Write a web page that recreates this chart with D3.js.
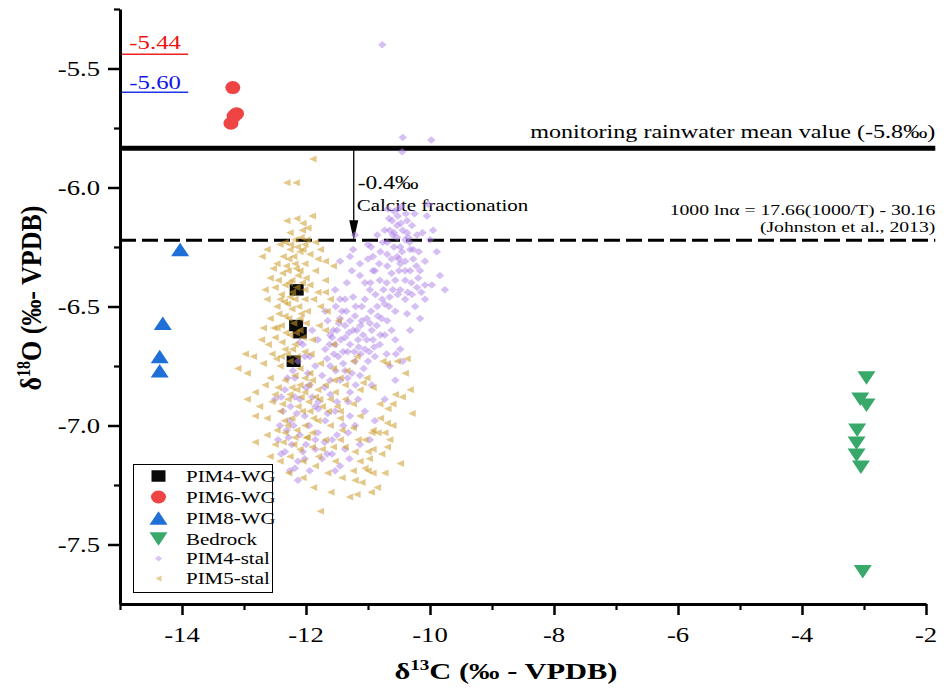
<!DOCTYPE html>
<html>
<head>
<meta charset="utf-8">
<script src="https://cdn.jsdelivr.net/npm/d3@7"></script>
<style>
  body { margin: 0; background: #fff; }
  text { font-family: "Liberation Serif", "Times New Roman", serif; }
</style>
</head>
<body>
<svg id="chart" width="950" height="688"></svg>
<script>
// ---- data ----
const xMajor = [-14, -12, -10, -8, -6, -4, -2];
const xMinor = [-15, -13, -11, -9, -7, -5, -3];
const yMajor = [-5.5, -6.0, -6.5, -7.0, -7.5];
const yMinor = [-5.25, -5.75, -6.25, -6.75, -7.25];

const rainMean = -5.835;        // monitoring rainwater mean δ18O
const calciteLine = -6.222;     // equilibrium calcite value
const arrowC = -11.23;          // δ13C position of the fractionation arrow
const lineEnd = -1.85;          // reference lines run slightly past the axis end
const refPim6 = -5.44;
const refPim8 = -5.60;
const refLineSpan = [-15, -13.9];

const pim4wg = [[-12.15, -6.43], [-12.16, -6.58], [-12.10, -6.61], [-12.20, -6.73]];
const pim6wg = [[-13.18, -5.58], [-13.12, -5.69], [-13.16, -5.70], [-13.21, -5.73]];
const pim8wg = [[-14.03, -6.26], [-14.31, -6.57], [-14.36, -6.71], [-14.36, -6.77]];
const bedrock = [[-2.96, -6.80], [-3.06, -6.89], [-2.96, -6.915], [-3.11, -7.02],
                 [-3.12, -7.075], [-3.12, -7.125], [-3.05, -7.175], [-3.02, -7.615]];

const pim4stal = [
  [-10.77,-5.40],[-10.44,-5.79],[-10.45,-5.85],[-9.98,-5.80],
  [-10.52,-6.09],[-10.68,-6.09],[-10.39,-6.11],[-10.52,-6.12],[-10.37,-6.14],[-10.61,-6.14],[-10.03,-6.07],
  [-10.53,-6.16],[-10.29,-6.16],[-10.73,-6.18],[-10.44,-6.18],[-10.65,-6.18],[-10.21,-6.20],[-10.60,-6.20],
  [-10.35,-6.21],[-11.21,-6.20],[-10.76,-6.23],[-10.48,-6.25],[-10.32,-6.26],[-11.00,-6.24],[-10.69,-6.28],
  [-10.53,-6.29],[-10.40,-6.31],[-10.27,-6.30],[-9.89,-6.27],[-10.00,-6.22],[-10.08,-6.31],[-10.16,-6.35],
  [-9.84,-6.37],[-9.76,-6.43],[-9.97,-6.41],[-11.29,-6.29],[-11.45,-6.31],[-11.24,-6.26],[-11.13,-6.32],
  [-10.92,-6.29],[-10.69,-6.23],[-10.53,-6.21],[-10.37,-6.19],[-10.27,-6.26],[-10.48,-6.32],[-10.69,-6.33],
  [-10.32,-6.35],[-10.21,-6.42],[-10.48,-6.43],[-10.65,-6.46],[-10.85,-6.50],[-11.02,-6.55],[-11.24,-6.46],
  [-11.34,-6.40],[-11.45,-6.55],[-11.56,-6.60],[-11.24,-6.60],[-10.92,-6.64],[-10.69,-6.56],[-10.37,-6.53],
  [-10.81,-6.39],[-10.97,-6.43],[-11.13,-6.37],[-10.56,-6.39],[-10.40,-6.47],[-11.10,-6.50],[-10.77,-6.47],
  [-10.24,-6.50],[-10.08,-6.47],[-10.56,-6.52],
  [-11.65,-6.56],[-11.53,-6.66],[-11.37,-6.63],[-11.29,-6.66],[-11.16,-6.64],[-11.05,-6.68],[-10.94,-6.60],
  [-10.81,-6.66],[-11.37,-6.58],[-11.48,-6.71],[-11.21,-6.73],[-11.10,-6.56],[-11.00,-6.73],[-11.69,-6.68],
  [-11.81,-6.64],[-11.61,-6.75],[-11.37,-6.77],[-11.94,-6.71],[-12.05,-6.66],[-12.13,-6.73],[-11.74,-6.79],
  [-11.45,-6.81],[-11.13,-6.79],[-10.89,-6.71],[-10.73,-6.62],[-11.21,-6.54],[-11.05,-6.47],[-11.45,-6.47],
  [-11.69,-6.52],[-11.53,-6.43],[-11.90,-6.60],[-10.65,-6.75],[-10.48,-6.68],[-10.56,-6.81],[-10.94,-6.83],
  [-11.29,-6.86],[-11.61,-6.87],[-11.94,-6.83],[-12.18,-6.80],[-12.34,-6.85],[-12.10,-6.89],[-11.85,-6.92],
  [-11.53,-6.94],[-11.29,-6.96],[-11.40,-7.00],[-11.69,-6.98],[-12.02,-6.96],[-12.26,-6.98],[-12.37,-6.94],
  [-12.31,-7.02],[-12.10,-7.04],[-11.81,-7.03],[-11.58,-7.06],[-11.32,-7.03],[-12.34,-7.11],[-12.13,-7.15],
  [-12.02,-7.14],[-11.85,-7.10],[-11.74,-7.14],[-11.58,-7.12],[-11.45,-7.17],[-11.37,-7.10],[-11.94,-7.19],
  [-12.23,-7.08],[-12.45,-7.06],[-12.42,-7.00],[-12.50,-6.89],[-12.18,-6.88],[-11.90,-6.88],[-11.61,-6.81],
  [-11.16,-6.89],[-11.05,-6.94],[-10.89,-6.98],[-11.21,-7.00],[-10.97,-7.06],[-11.32,-6.90],[-12.21,-6.77],
  [-12.02,-6.71],[-11.85,-6.75],[-11.61,-6.62],[-11.42,-6.52],[-11.29,-6.56],[-10.97,-6.57],[-10.84,-6.54],
  [-10.73,-6.49],[-10.60,-6.43],[-10.89,-6.35],[-11.05,-6.40],[-11.26,-6.35],[-11.37,-6.47],[-10.40,-6.39],
  [-10.19,-6.38],[-10.08,-6.41],[-10.29,-6.45],[-10.16,-6.55],[-10.32,-6.60],[-10.56,-6.64],[-10.44,-6.73],
  [-10.73,-6.89],[-11.13,-7.08],[-11.53,-7.19],[-12.26,-7.19],[-12.13,-7.23],
  [-11.50,-6.60],[-11.33,-6.69],[-11.18,-6.60],[-11.08,-6.62],[-10.98,-6.69],[-11.40,-6.74],[-11.26,-6.78],
  [-11.55,-6.70],[-10.86,-6.58],[-11.12,-6.70],[-11.44,-6.64],[-11.62,-6.66],[-11.20,-6.83],[-10.70,-6.70],
  [-11.70,-6.84],[-11.80,-6.93],[-12.00,-6.84],[-12.25,-6.92],[-12.40,-6.88],[-11.95,-7.00],[-12.20,-7.00],
  [-11.70,-7.07],[-12.00,-7.08],
  [-10.58,-6.25],[-10.45,-6.27],[-10.62,-6.30],[-10.80,-6.27],[-10.92,-6.35],[-10.75,-6.43],[-10.88,-6.45],
  [-10.30,-6.40],[-10.50,-6.35],[-10.40,-6.22],[-10.18,-6.27],[-10.12,-6.19],[-10.25,-6.11],[-10.58,-6.10],
  [-10.46,-6.08],[-10.66,-6.13],[-10.05,-6.12],[-9.95,-6.18],
  [-11.47,-6.57],[-11.31,-6.61],[-11.15,-6.67],[-11.02,-6.64],[-10.90,-6.67],[-11.58,-6.63],[-11.40,-6.69],
  [-11.22,-6.69],[-11.07,-6.76],[-11.52,-6.77],[-11.66,-6.72],[-11.33,-6.80],[-11.12,-6.58],[-10.95,-6.52],
  [-11.20,-6.50],[-11.35,-6.52],[-11.52,-6.50],[-10.80,-6.62],[-10.62,-6.60],[-10.55,-6.70],
  [-10.47,-6.15],[-10.58,-6.19],[-10.33,-6.23],[-10.50,-6.30],[-10.62,-6.36],[-10.40,-6.35],[-10.70,-6.40],
  [-10.52,-6.45],[-10.36,-6.44],[-10.82,-6.32],[-10.96,-6.40],[-10.78,-6.55],[-10.66,-6.50],[-11.00,-6.30],
  [-10.85,-6.20],[-10.95,-6.25],[-10.22,-6.33],[-10.14,-6.44],
  [-11.80,-6.90],[-11.65,-6.95],[-11.50,-6.90],[-11.85,-7.06],[-12.15,-6.95],[-12.28,-7.05],[-12.05,-7.11],
  [-11.66,-7.12],[-11.50,-7.04],[-11.30,-7.14],[-12.18,-7.18],[-12.40,-7.12],[-12.30,-6.80],[-12.10,-6.65],
  [-11.97,-6.78]
];

const pim5stal = [
  [-11.89,-5.88],[-12.31,-5.98],[-12.16,-5.98],[-12.31,-6.14],[-12.15,-6.13],[-12.05,-6.15],[-11.90,-6.12],
  [-12.26,-6.19],[-12.06,-6.18],[-11.97,-6.17],[-12.18,-6.22],[-12.34,-6.23],[-11.85,-6.23],[-12.02,-6.24],
  [-12.26,-6.26],[-12.10,-6.27],[-12.37,-6.29],[-11.94,-6.28],[-12.71,-6.29],[-12.47,-6.32],[-12.18,-6.32],
  [-12.02,-6.32],[-12.29,-6.35],[-12.13,-6.37],[-11.85,-6.35],[-11.56,-6.33],[-11.69,-6.39],[-12.58,-6.38],
  [-12.66,-6.43],[-12.50,-6.42],[-12.34,-6.41],[-12.26,-6.46],[-12.42,-6.47],[-12.63,-6.47],[-12.02,-6.47],
  [-11.94,-6.41],[-11.77,-6.50],[-11.69,-6.44],[-11.66,-6.52],[-11.98,-6.52],[-12.47,-6.50],[-12.34,-6.54],
  [-12.58,-6.55],[-12.69,-6.59],[-12.47,-6.59],[-12.26,-6.62],[-12.10,-6.60],[-11.90,-6.64],[-12.39,-6.65],
  [-12.61,-6.66],[-12.98,-6.70],[-12.85,-6.71],[-12.69,-6.74],[-13.10,-6.76],[-12.95,-6.78],[-12.55,-6.70],
  [-12.42,-6.75],[-12.26,-6.73],[-12.10,-6.76],[-11.94,-6.78],[-11.77,-6.74],[-11.56,-6.76],[-11.45,-6.80],
  [-11.24,-6.73],[-11.02,-6.80],[-10.76,-6.73],[-10.69,-6.74],[-10.53,-6.73],[-10.37,-6.72],[-10.40,-6.78],
  [-10.32,-6.85],[-10.45,-6.88],[-10.29,-6.95],[-10.60,-6.91],[-10.81,-6.91],[-10.92,-6.84],[-11.08,-6.82],
  [-11.24,-6.91],[-11.13,-6.96],[-11.24,-7.01],[-10.92,-7.02],[-10.69,-6.99],[-10.56,-6.87],[-10.68,-6.93],
  [-10.48,-7.16],[-10.69,-7.09],[-10.92,-7.10],[-11.13,-7.15],[-11.24,-7.19],[-10.92,-7.20],[-10.85,-7.26],
  [-11.18,-7.29],[-11.77,-7.36],[-11.42,-7.22],[-11.21,-7.23],[-11.00,-7.19],[-10.73,-7.20],[-11.05,-7.18],
  [-11.21,-7.11],[-11.00,-7.11],[-11.05,-7.06],[-11.16,-7.06],[-10.94,-7.03],[-10.84,-7.03],[-10.73,-7.03],
  [-10.65,-7.06],[-11.53,-7.15],[-11.85,-7.17],[-11.37,-7.09],[-11.45,-7.06],[-12.82,-7.07],[-12.63,-7.04],
  [-12.58,-7.13],[-12.82,-6.96],[-12.95,-6.89],[-12.82,-6.86],[-12.63,-6.97],[-12.47,-7.02],[-12.37,-7.07],
  [-12.34,-6.81],[-12.23,-6.84],[-12.10,-6.83],[-12.02,-6.86],[-11.90,-6.81],[-11.81,-6.85],[-11.69,-6.83],
  [-11.61,-6.89],[-11.74,-6.92],[-11.94,-6.94],[-12.13,-6.92],[-12.29,-6.89],[-12.42,-6.94],[-12.23,-6.97],
  [-12.02,-7.00],[-11.81,-6.98],[-11.61,-7.00],[-11.45,-6.97],[-11.90,-7.03],[-12.18,-7.05],[-12.34,-7.03],
  [-12.10,-7.10],[-11.90,-7.09],[-11.69,-7.06],[-11.74,-7.10],[-12.26,-7.13],[-12.05,-7.15],[-12.42,-7.15],
  [-12.50,-6.87],[-12.58,-6.80],[-12.45,-6.84],[-12.18,-6.79],[-12.02,-6.80],[-11.85,-6.88],[-11.53,-6.86],
  [-11.37,-6.89],[-11.45,-6.94],[-12.34,-6.68],[-12.18,-6.66],[-12.02,-6.69],[-12.50,-6.63],[-12.10,-6.55],
  [-12.23,-6.51],[-12.45,-6.39],[-12.53,-6.34],[-12.42,-6.24],[-12.63,-6.26],[-11.81,-6.30],[-11.69,-6.31],
  [-11.77,-6.26],[-12.10,-6.35],[-12.23,-6.39],[-12.02,-6.43],[-11.81,-6.44],[-11.61,-6.47],[-11.48,-6.56],
  [-11.79,-6.58],[-11.69,-6.60],[-11.56,-6.66],[-11.34,-6.77],[-11.18,-6.71],[-11.13,-6.85],[-11.37,-6.83],
  [-12.20,-6.29],[-12.08,-6.21],[-12.28,-6.30],[-12.00,-6.38],[-12.15,-6.42],[-12.38,-6.36],[-12.05,-6.26],
  [-11.98,-6.22],[-12.22,-6.44],[-12.30,-6.49],[-12.12,-6.50],[-11.88,-6.47],[-12.40,-6.58],[-12.20,-6.57],
  [-12.00,-6.57],[-11.92,-6.70],[-12.30,-6.70],[-12.48,-6.72],[-12.55,-6.90],[-12.35,-6.98],[-12.15,-7.02],
  [-11.98,-7.05],[-12.50,-7.08],[-12.28,-7.20],[-12.05,-7.22],[-11.88,-7.26],[-11.65,-7.20],[-11.60,-7.28],
  [-12.26,-6.87],[-12.08,-6.88],[-11.96,-6.90],[-11.78,-6.89],[-11.64,-6.94],[-11.88,-6.97],[-12.06,-6.94],
  [-12.20,-7.08],[-12.00,-7.05],[-11.80,-7.13],[-11.56,-7.09],[-12.38,-6.91],[-12.15,-6.85],[-11.96,-6.83],
  [-11.55,-6.81],[-11.50,-6.92],[-11.42,-7.02],[-12.30,-7.00],
  [-12.25,-6.24],[-12.14,-6.25],[-12.32,-6.33],[-12.16,-6.34],[-12.06,-6.40],[-12.27,-6.40],[-12.40,-6.45],
  [-12.18,-6.47],[-12.35,-6.48],[-12.08,-6.53],[-12.28,-6.55],[-12.44,-6.53],[-12.16,-6.61],[-12.33,-6.61],
  [-12.52,-6.59],[-12.05,-6.63],[-12.22,-6.68],[-12.40,-6.71],[-12.14,-6.71],
  [-10.80,-6.97],[-10.60,-7.00],[-10.78,-7.12],[-10.98,-7.14],[-11.10,-7.24],[-10.95,-7.28],[-11.30,-7.30],
  [-12.66,-6.83],[-12.72,-6.64],[-12.75,-6.92]
];

const legendItems = ["PIM4-WG", "PIM6-WG", "PIM8-WG", "Bedrock", "PIM4-stal", "PIM5-stal"];

// ---- drawing ----
const SX = 1.27;   // horizontal stretch applied to glyphs
const svg = d3.select("#chart");
const x = d3.scaleLinear().domain([-15, -2]).range([120, 926]);
const y = d3.scaleLinear().domain([-7.75, -5.25]).range([604, 9]);

function shapePath(type, w, h) {
  const a = w / 2, b = h / 2;
  switch (type) {
    case "square":  return `M${-a},${-b}H${a}V${b}H${-a}Z`;
    case "circle":  return `M${-a},0A${a},${b} 0 1,0 ${a},0A${a},${b} 0 1,0 ${-a},0Z`;
    case "up":      return `M0,${-b}L${a},${b}L${-a},${b}Z`;
    case "down":    return `M0,${b}L${a},${-b}L${-a},${-b}Z`;
    case "diamond": return `M0,${-b}L${a},0L0,${b}L${-a},0Z`;
    case "left":    return `M${-a},0L${a},${-b}L${a},${b}Z`;
  }
}

const styles = {
  pim4wg:  { type: "square",  w: 14, h: 11.5, fill: "#0a0a0a", op: 1 },
  pim6wg:  { type: "circle",  w: 15, h: 13,   fill: "#ef4444", op: 1 },
  pim8wg:  { type: "up",      w: 18, h: 13.5, fill: "#1f6fd8", op: 1 },
  bedrock: { type: "down",    w: 18, h: 13.5, fill: "#38a96a", op: 1 },
  pim4stal:{ type: "diamond", w: 8.5, h: 7.5, fill: "#ad7fe8", op: 0.5 },
  pim5stal:{ type: "left",    w: 7.5, h: 7,   fill: "#cc9b2a", op: 0.55 }
};

function drawSeries(data, st) {
  svg.append("g").selectAll("path").data(data).join("path")
    .attr("d", shapePath(st.type, st.w, st.h))
    .attr("transform", d => `translate(${x(d[0])},${y(d[1])})`)
    .attr("fill", st.fill)
    .attr("fill-opacity", st.op);
}

function label(parent, px, py, str, size, anchor, color, weight) {
  return parent.append("text")
    .attr("transform", `translate(${px},${py}) scale(${SX},1)`)
    .attr("text-anchor", anchor || "start")
    .attr("font-size", size)
    .attr("font-weight", weight || "normal")
    .attr("fill", color || "#000")
    .text(str);
}

// reference lines
const solidY = y(rainMean), dashY = y(calciteLine);
svg.append("line").attr("x1", x(-15)).attr("x2", x(lineEnd))
  .attr("y1", solidY).attr("y2", solidY).attr("stroke", "#000").attr("stroke-width", 5);
svg.append("line").attr("x1", x(-15)).attr("x2", x(lineEnd))
  .attr("y1", dashY).attr("y2", dashY).attr("stroke", "#000").attr("stroke-width", 3)
  .attr("stroke-dasharray", "16,6");

svg.append("line").attr("x1", x(refLineSpan[0])).attr("x2", x(refLineSpan[1]))
  .attr("y1", y(refPim6)).attr("y2", y(refPim6)).attr("stroke", "#ee2222").attr("stroke-width", 1.5);
svg.append("line").attr("x1", x(refLineSpan[0])).attr("x2", x(refLineSpan[1]))
  .attr("y1", y(refPim8)).attr("y2", y(refPim8)).attr("stroke", "#2233ee").attr("stroke-width", 1.5);
const refMid = (x(refLineSpan[0]) + x(refLineSpan[1])) / 2 + 1;
label(svg, refMid, y(refPim6) - 5, refPim6.toFixed(2), 19.5, "middle", "#ee1111");
label(svg, refMid, y(refPim8) - 3, refPim8.toFixed(2), 19.5, "middle", "#1515e8");

// fractionation arrow
const ax = x(arrowC);
svg.append("line").attr("x1", ax).attr("x2", ax).attr("y1", solidY + 2).attr("y2", dashY - 18)
  .attr("stroke", "#000").attr("stroke-width", 1.3);
svg.append("path").attr("d", `M${ax - 4.5},${dashY - 20}L${ax + 4.5},${dashY - 20}L${ax},${dashY}Z`).attr("fill", "#000");
label(svg, ax + 4, 189, (calciteLine - rainMean).toFixed(1) + "\u2030", 18.5, "start");
label(svg, ax + 3, 211, "Calcite fractionation", 16.5, "start");

label(svg, x(lineEnd), 138, `monitoring rainwater mean value (${rainMean.toFixed(1)}\u2030)`, 19, "end");
label(svg, x(lineEnd), 215, "1000 ln\u03b1 = 17.66(1000/T) - 30.16", 15.5, "end");
label(svg, x(lineEnd), 232, "(Johnston et al., 2013)", 15.5, "end");

// points
drawSeries(pim6wg, styles.pim6wg);
drawSeries(pim8wg, styles.pim8wg);
drawSeries(bedrock, styles.bedrock);
drawSeries(pim4wg, styles.pim4wg);
drawSeries(pim4stal, styles.pim4stal);
drawSeries(pim5stal, styles.pim5stal);

// axes
function styleAxis(g, w) {
  g.selectAll("line").attr("stroke", "#000").attr("stroke-width", w);
  g.selectAll("path.domain").attr("stroke", "#000").attr("stroke-width", 3);
}
const gxMinor = svg.append("g").attr("transform", `translate(0,${y(-7.75)})`)
  .call(d3.axisBottom(x).tickValues(xMinor).tickSize(6).tickSizeOuter(0).tickFormat(""));
gxMinor.select("path.domain").remove();
styleAxis(gxMinor, 2.2);
const gx = svg.append("g").attr("transform", `translate(0,${y(-7.75)})`)
  .call(d3.axisBottom(x).tickValues(xMajor).tickSize(11).tickSizeOuter(0).tickFormat(""));
styleAxis(gx, 2.5);

const gyMinor = svg.append("g").attr("transform", `translate(${x(-15)},0)`)
  .call(d3.axisLeft(y).tickValues(yMinor).tickSize(6).tickSizeOuter(0).tickFormat(""));
gyMinor.select("path.domain").remove();
styleAxis(gyMinor, 2.2);
const gy = svg.append("g").attr("transform", `translate(${x(-15)},0)`)
  .call(d3.axisLeft(y).tickValues(yMajor).tickSize(12).tickSizeOuter(0).tickFormat(""));
styleAxis(gy, 2.5);

// tick labels
xMajor.forEach(v => label(svg, x(v), 642, String(v), 21, "middle"));
yMajor.forEach(v => label(svg, 100, y(v) + 7, v.toFixed(1), 21, "end"));

// axis titles
const xt = svg.append("text")
  .attr("transform", `translate(506,679) scale(${SX},1)`)
  .attr("text-anchor", "middle").attr("font-size", 24).attr("font-weight", "bold");
xt.append("tspan").text("\u03b4");
xt.append("tspan").attr("font-size", 15).attr("dy", -9).text("13");
xt.append("tspan").attr("dy", 9).text("C (\u2030 - VPDB)");

const yt = svg.append("text")
  .attr("transform", `translate(41,298) scale(1.12,1) rotate(-90)`)
  .attr("text-anchor", "middle").attr("font-size", 26).attr("font-weight", "bold");
yt.append("tspan").text("\u03b4");
yt.append("tspan").attr("font-size", 16).attr("dy", -10).text("18");
yt.append("tspan").attr("dy", 10).text("O (\u2030- VPDB)");

// legend
const lg = svg.append("g");
lg.append("rect").attr("x", 133.5).attr("y", 464.5).attr("width", 139).attr("height", 128)
  .attr("fill", "#fff").attr("stroke", "#000").attr("stroke-width", 1);
const legendStyles = [
  styles.pim4wg, styles.pim6wg, styles.pim8wg, styles.bedrock,
  { type: "diamond", w: 7, h: 6, fill: "#ad7fe8", op: 0.45 },
  { type: "left", w: 6, h: 6, fill: "#cc9b2a", op: 0.5 }
];
const rowY = [476, 497, 518, 539, 558.5, 578.5];
legendItems.forEach((name, i) => {
  const st = legendStyles[i];
  lg.append("path").attr("d", shapePath(st.type, st.w, st.h))
    .attr("transform", `translate(158.5,${rowY[i]})`)
    .attr("fill", st.fill).attr("fill-opacity", st.op);
  label(lg, 186, rowY[i] + 5.5, name, 16.5, "start");
});
</script>
</body>
</html>
